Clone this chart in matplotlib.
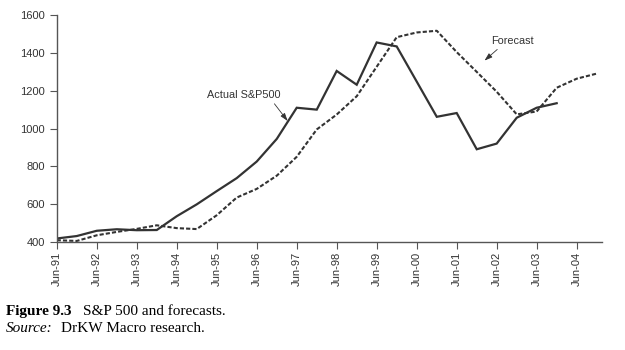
import pandas as pd
import matplotlib
matplotlib.use("Agg")
import matplotlib.pyplot as plt
import matplotlib.dates as mdates

# Actual S&P 500 (half-yearly readings)
actual_dates = ["1991-06", "1991-12", "1992-06", "1992-12", "1993-06", "1993-12",
                "1994-06", "1994-12", "1995-06", "1995-12", "1996-06", "1996-12",
                "1997-06", "1997-12", "1998-06", "1998-12", "1999-06", "1999-12",
                "2000-12", "2001-06", "2001-12", "2002-06", "2002-12", "2003-06",
                "2003-12"]
actual_values = [417, 430, 458, 466, 461, 462,
                 535, 598, 668, 737, 825, 945,
                 1110, 1100, 1305, 1232, 1456, 1435,
                 1062, 1082, 890, 920, 1057, 1110,
                 1134]

# Forecast
forecast_dates = ["1991-06", "1991-12", "1992-06", "1992-12", "1993-06", "1993-12",
                  "1994-06", "1994-12", "1995-06", "1995-12", "1996-06", "1996-12",
                  "1997-06", "1997-12", "1998-06", "1998-12", "1999-12", "2000-06",
                  "2000-12", "2001-06", "2001-12", "2002-06", "2002-12", "2003-06",
                  "2003-12", "2004-06", "2004-12"]
forecast_values = [408, 404, 434, 452, 468, 487,
                   472, 467, 540, 634, 680, 750,
                   850, 995, 1074, 1171, 1484, 1509,
                   1518, 1405, 1300, 1195, 1075, 1090,
                   1216, 1264, 1291]

tick_years = list(range(1991, 2005))
y_ticks = [400, 600, 800, 1000, 1200, 1400, 1600]

ink = "#333333"

fig = plt.figure(figsize=(6.25, 3.5), dpi=100)
ax = fig.add_axes([0.0907, 0.3094, 0.872, 0.6469])

ax.plot(pd.to_datetime(actual_dates), actual_values, color=ink, lw=1.6,
        solid_joinstyle="miter")
ax.plot(pd.to_datetime(forecast_dates), forecast_values, color=ink, lw=1.5,
        linestyle=(0, (2, 1)))

ax.set_ylim(400, 1600)
ax.set_yticks(y_ticks)
ax.set_xlim(pd.Timestamp("1991-06-01"), pd.Timestamp("2005-01-15"))
ax.set_xticks([pd.Timestamp(f"{y}-06-01") for y in tick_years])
ax.xaxis.set_major_formatter(mdates.DateFormatter("%b-%y"))

for s in ["top", "right"]:
    ax.spines[s].set_visible(False)
for s in ["left", "bottom"]:
    ax.spines[s].set_color("#555555")
    ax.spines[s].set_linewidth(1.0)

ax.tick_params(axis="both", direction="out", length=5, width=0.8,
               color="#555555", labelcolor=ink, labelsize=8)
ax.tick_params(axis="x", rotation=90, pad=2)
for lab in ax.get_xticklabels() + ax.get_yticklabels():
    lab.set_fontfamily("Liberation Sans")

arrow = dict(arrowstyle="-|>,head_length=0.6,head_width=0.2", lw=0.6,
             color=ink, shrinkA=1, shrinkB=0)
ax.annotate("Actual S&P500", xy=(pd.Timestamp("1997-03-10"), 1040),
            xytext=(pd.Timestamp("1996-02-01"), 1178), ha="center", va="center",
            fontsize=7.8, family="Liberation Sans", color=ink,
            arrowprops=dict(arrow, relpos=(0.88, 0)))
ax.annotate("Forecast", xy=(pd.Timestamp("2002-02-10"), 1360),
            xytext=(pd.Timestamp("2002-10-20"), 1465), ha="center", va="center",
            fontsize=7.8, family="Liberation Sans", color=ink,
            arrowprops=dict(arrow, relpos=(0.25, 0)))

# caption
fig.text(6 / 625, 0.1009, "Figure 9.3", family="Liberation Serif",
         fontweight="bold", fontsize=11, va="baseline")
fig.text(83 / 625, 0.1009, "S&P 500 and forecasts.", family="Liberation Serif",
         fontsize=11, va="baseline")
fig.text(6 / 625, 0.0514, "Source:", family="Liberation Serif",
         style="italic", fontsize=11, va="baseline")
fig.text(61 / 625, 0.0514, "DrKW Macro research.", family="Liberation Serif",
         fontsize=11, va="baseline")

fig.savefig("out.png", dpi=100)
